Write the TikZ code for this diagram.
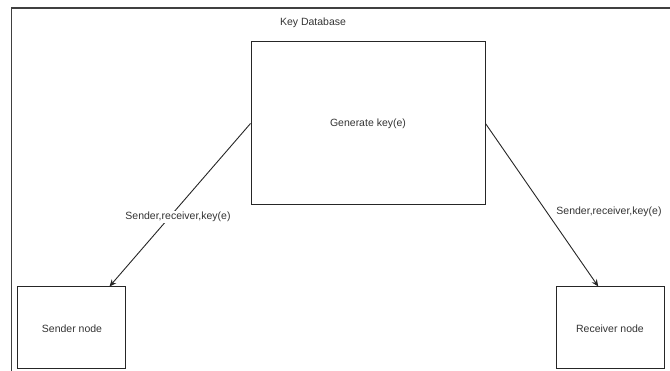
\documentclass[tikz,border=0pt]{standalone}
\usepackage{fontspec}
\setmainfont{Liberation Sans}
\usetikzlibrary{arrows.meta}
\begin{document}
\begin{tikzpicture}[x=1pt,y=-1pt,
  box/.style={draw=black!85,line width=1pt,rectangle,inner sep=0pt},
  txt/.style={font=\fontsize{10.5}{12}\selectfont,text=black!80,inner sep=1pt},
  conn/.style={draw=black!85,line width=0.9pt,-{Stealth[length=7pt,width=6pt]}},
  lbl/.style={txt,fill=white}]
\useasboundingbox (0,0) rectangle (670,371);
\draw[black!75,line width=1.2pt] (11.5,371) -- (11.5,8) -- (670,8);
\node[box,minimum width=234pt,minimum height=163pt] (main) at (368,123.5) {};
\node[txt] (gen) at (368,124) {Generate key(e)};
\node[txt] (kdb) at (313,23) {Key Database};
\node[box,minimum width=107.5pt,minimum height=82pt] (sender) at (71.25,328) {};
\node[txt] (stxt) at (72,329) {Sender node};
\node[box,minimum width=108.5pt,minimum height=82pt] (receiver) at (610.25,328) {};
\node[txt] (rtxt) at (610,329) {Receiver node};
\draw[conn] (main.west) -- ([xshift=-16pt]sender.north east);
\draw[conn] (main.east) -- ([xshift=-12pt]receiver.north);
\node[lbl] (l1) at (178,217) {Sender,receiver,key(e)};
\node[lbl] (l2) at (609,212) {Sender,receiver,key(e)};
\end{tikzpicture}
\end{document}
